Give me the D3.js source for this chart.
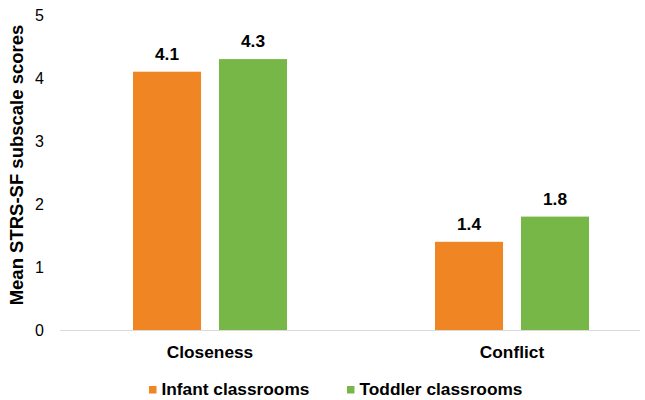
<!DOCTYPE html>
<html>
<head>
<meta charset="utf-8">
<script src="https://cdn.jsdelivr.net/npm/d3@7"></script>
<style>
  body { margin: 0; background: #fff; }
  text { font-family: Arial, "Liberation Sans", sans-serif; fill: #000; }
  .bold { font-weight: bold; }
</style>
</head>
<body>
<svg id="chart"></svg>
<script>
// data
const categories = ['Closeness', 'Conflict'];
const seriesNames = ['Infant classrooms', 'Toddler classrooms'];
const infantValues = [4.1, 1.4];
const toddlerValues = [4.3, 1.8];
const yTicks = [0, 1, 2, 3, 4, 5];
const colors = ['#EF8523', '#77B747'];

const width = 645, height = 400;

const svg = d3.select('#chart')
    .attr('width', width)
    .attr('height', height);

const data = categories.map((c, i) => ({
    cat: c,
    values: [
        { name: seriesNames[0], value: infantValues[i] },
        { name: seriesNames[1], value: toddlerValues[i] }
    ]
}));

const yScale = d3.scaleLinear()
    .domain([0, 5])
    .range([330, 15]);

const x0 = d3.scaleBand()
    .domain(categories)
    .range([59, 663])
    .padding(0);

const x1 = d3.scaleBand()
    .domain(seriesNames)
    .range([74, 228])
    .paddingInner(0.209);

const color = d3.scaleOrdinal().domain(seriesNames).range(colors);

// y tick labels
svg.append('g')
    .selectAll('text')
    .data(yTicks)
    .join('text')
    .attr('x', 44)
    .attr('y', d => yScale(d))
    .attr('dy', '0.35em')
    .attr('text-anchor', 'end')
    .style('font-size', '16px')
    .text(d => d);

// baseline
svg.append('line')
    .attr('x1', 60)
    .attr('x2', 640)
    .attr('y1', yScale(0) + 0.5)
    .attr('y2', yScale(0) + 0.5)
    .attr('stroke', '#D9D9D9')
    .attr('stroke-width', 1);

// bars
const groups = svg.append('g')
    .selectAll('g')
    .data(data)
    .join('g')
    .attr('transform', d => `translate(${x0(d.cat)},0)`);

groups.selectAll('rect')
    .data(d => d.values)
    .join('rect')
    .attr('x', d => x1(d.name))
    .attr('y', d => yScale(d.value))
    .attr('width', x1.bandwidth())
    .attr('height', d => yScale(0) - yScale(d.value))
    .attr('fill', d => color(d.name));

groups.selectAll('text')
    .data(d => d.values)
    .join('text')
    .attr('class', 'bold')
    .attr('x', d => x1(d.name) + x1.bandwidth() / 2)
    .attr('y', d => yScale(d.value) - 12)
    .attr('text-anchor', 'middle')
    .style('font-size', '17.3px')
    .text(d => d.value.toFixed(1));

// category labels
svg.append('g')
    .selectAll('text')
    .data(categories)
    .join('text')
    .attr('class', 'bold')
    .attr('x', d => x0(d) + 151)
    .attr('y', 358)
    .attr('text-anchor', 'middle')
    .style('font-size', '17.3px')
    .text(d => d);

// y axis title
svg.append('text')
    .attr('class', 'bold')
    .attr('transform', 'translate(23,165) rotate(-90)')
    .attr('text-anchor', 'middle')
    .style('font-size', '18.5px')
    .text('Mean STRS-SF subscale scores');

// legend
const legendX = [149, 347];
const legend = svg.append('g')
    .selectAll('g')
    .data(seriesNames)
    .join('g')
    .attr('transform', (d, i) => `translate(${legendX[i]},386)`);

legend.append('rect')
    .attr('width', 7.5)
    .attr('height', 7.5)
    .attr('fill', d => color(d));

legend.append('text')
    .attr('class', 'bold')
    .attr('x', 12.5)
    .attr('y', 9)
    .style('font-size', '17.3px')
    .text(d => d);
</script>
</body>
</html>
